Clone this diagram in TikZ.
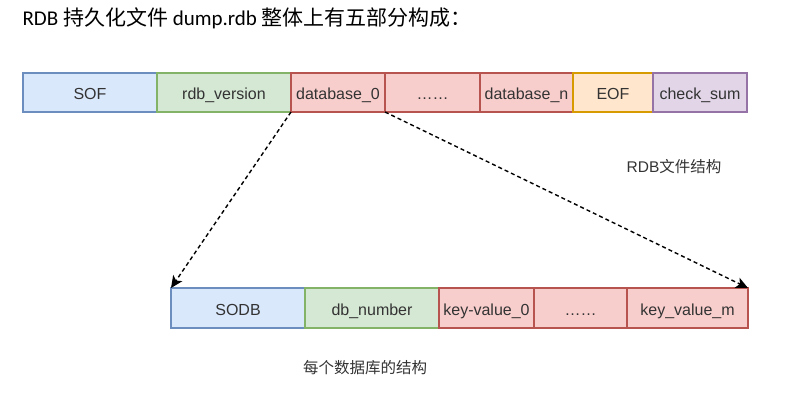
\documentclass[tikz,border=0pt]{standalone}
\usepackage{fontspec}
\setmainfont{Liberation Sans}
\newfontfamily\cjk{Noto Sans CJK SC}
\newfontfamily\titlefont{Carlito}
\usetikzlibrary{positioning,arrows.meta}
\definecolor{txtgray}{HTML}{333333}
\definecolor{blueF}{HTML}{DAE8FC}\definecolor{blueD}{HTML}{6C8EBF}
\definecolor{greenF}{HTML}{D5E8D4}\definecolor{greenD}{HTML}{82B366}
\definecolor{redF}{HTML}{F8CECC}\definecolor{redD}{HTML}{B85450}
\definecolor{orangeF}{HTML}{FFE6CC}\definecolor{orangeD}{HTML}{D79B00}
\definecolor{purpleF}{HTML}{E1D5E7}\definecolor{purpleD}{HTML}{9673A6}
\begin{document}
\begin{tikzpicture}
  [x=1pt,y=-1pt,
  every node/.style={font=\fontsize{16}{19}\selectfont,text=txtgray},
  blk/.style={minimum height=39pt,inner sep=0pt,outer sep=0pt,line width=1.2pt,draw,
    text height=16pt,text depth=1.5pt},
  blue/.style={blk,fill=blueF,draw=blueD},
  green/.style={blk,fill=greenF,draw=greenD},
  red/.style={blk,fill=redF,draw=redD},
  orange/.style={blk,fill=orangeF,draw=orangeD},
  purple/.style={blk,fill=purpleF,draw=purpleD},
  capt/.style={font=\fontsize{15.5}{18}\selectfont},
  link/.style={dash pattern=on 4pt off 3pt,line width=1.4pt,-{Stealth[length=12pt,width=11pt,inset=3pt]}}]
  \useasboundingbox (0,0) rectangle (790,418);
  % title
  \node[anchor=west,text=black,font=\fontsize{21}{25}\selectfont] (title) at (19,18)
    {{\titlefont RDB }{\cjk 持久化文件}{\titlefont\ dump.rdb }{\cjk 整体上有五部分构成：}};
  % file layout
  \node[blue,minimum width=134pt,anchor=west] (sof) at (23,92.5) {SOF};
  \node[green,minimum width=134pt,right=0pt of sof] (ver) {rdb\_version};
  \node[red,minimum width=94pt,right=0pt of ver] (db0) {database\_0};
  \node[red,minimum width=95pt,right=0pt of db0] (dbdots) {……};
  \node[red,minimum width=93pt,right=0pt of dbdots] (dbn) {database\_n};
  \node[orange,minimum width=80pt,right=0pt of dbn] (eof) {EOF};
  \node[purple,minimum width=94pt,right=0pt of eof] (sum) {check\_sum};
  \node[capt] (cap1) at (674,167) {RDB{\cjk 文件结构}};
  % one database
  \node[blue,minimum width=134pt,minimum height=40pt,anchor=west] (sodb) at (171,308) {SODB};
  \node[green,minimum width=134pt,minimum height=40pt,right=0pt of sodb] (num) {db\_number};
  \node[red,minimum width=95pt,minimum height=40pt,right=0pt of num] (kv0) {key-value\_0};
  \node[red,minimum width=93pt,minimum height=40pt,right=0pt of kv0] (kvdots) {……};
  \node[red,minimum width=121pt,minimum height=40pt,right=0pt of kvdots] (kvm) {key\_value\_m};
  \node[capt] (cap2) at (365,368) {\cjk 每个数据库的结构};
  \draw[link] (db0.south west) -- (sodb.north west);
  \draw[link] (db0.south east) -- (kvm.north east);
\end{tikzpicture}
\end{document}
